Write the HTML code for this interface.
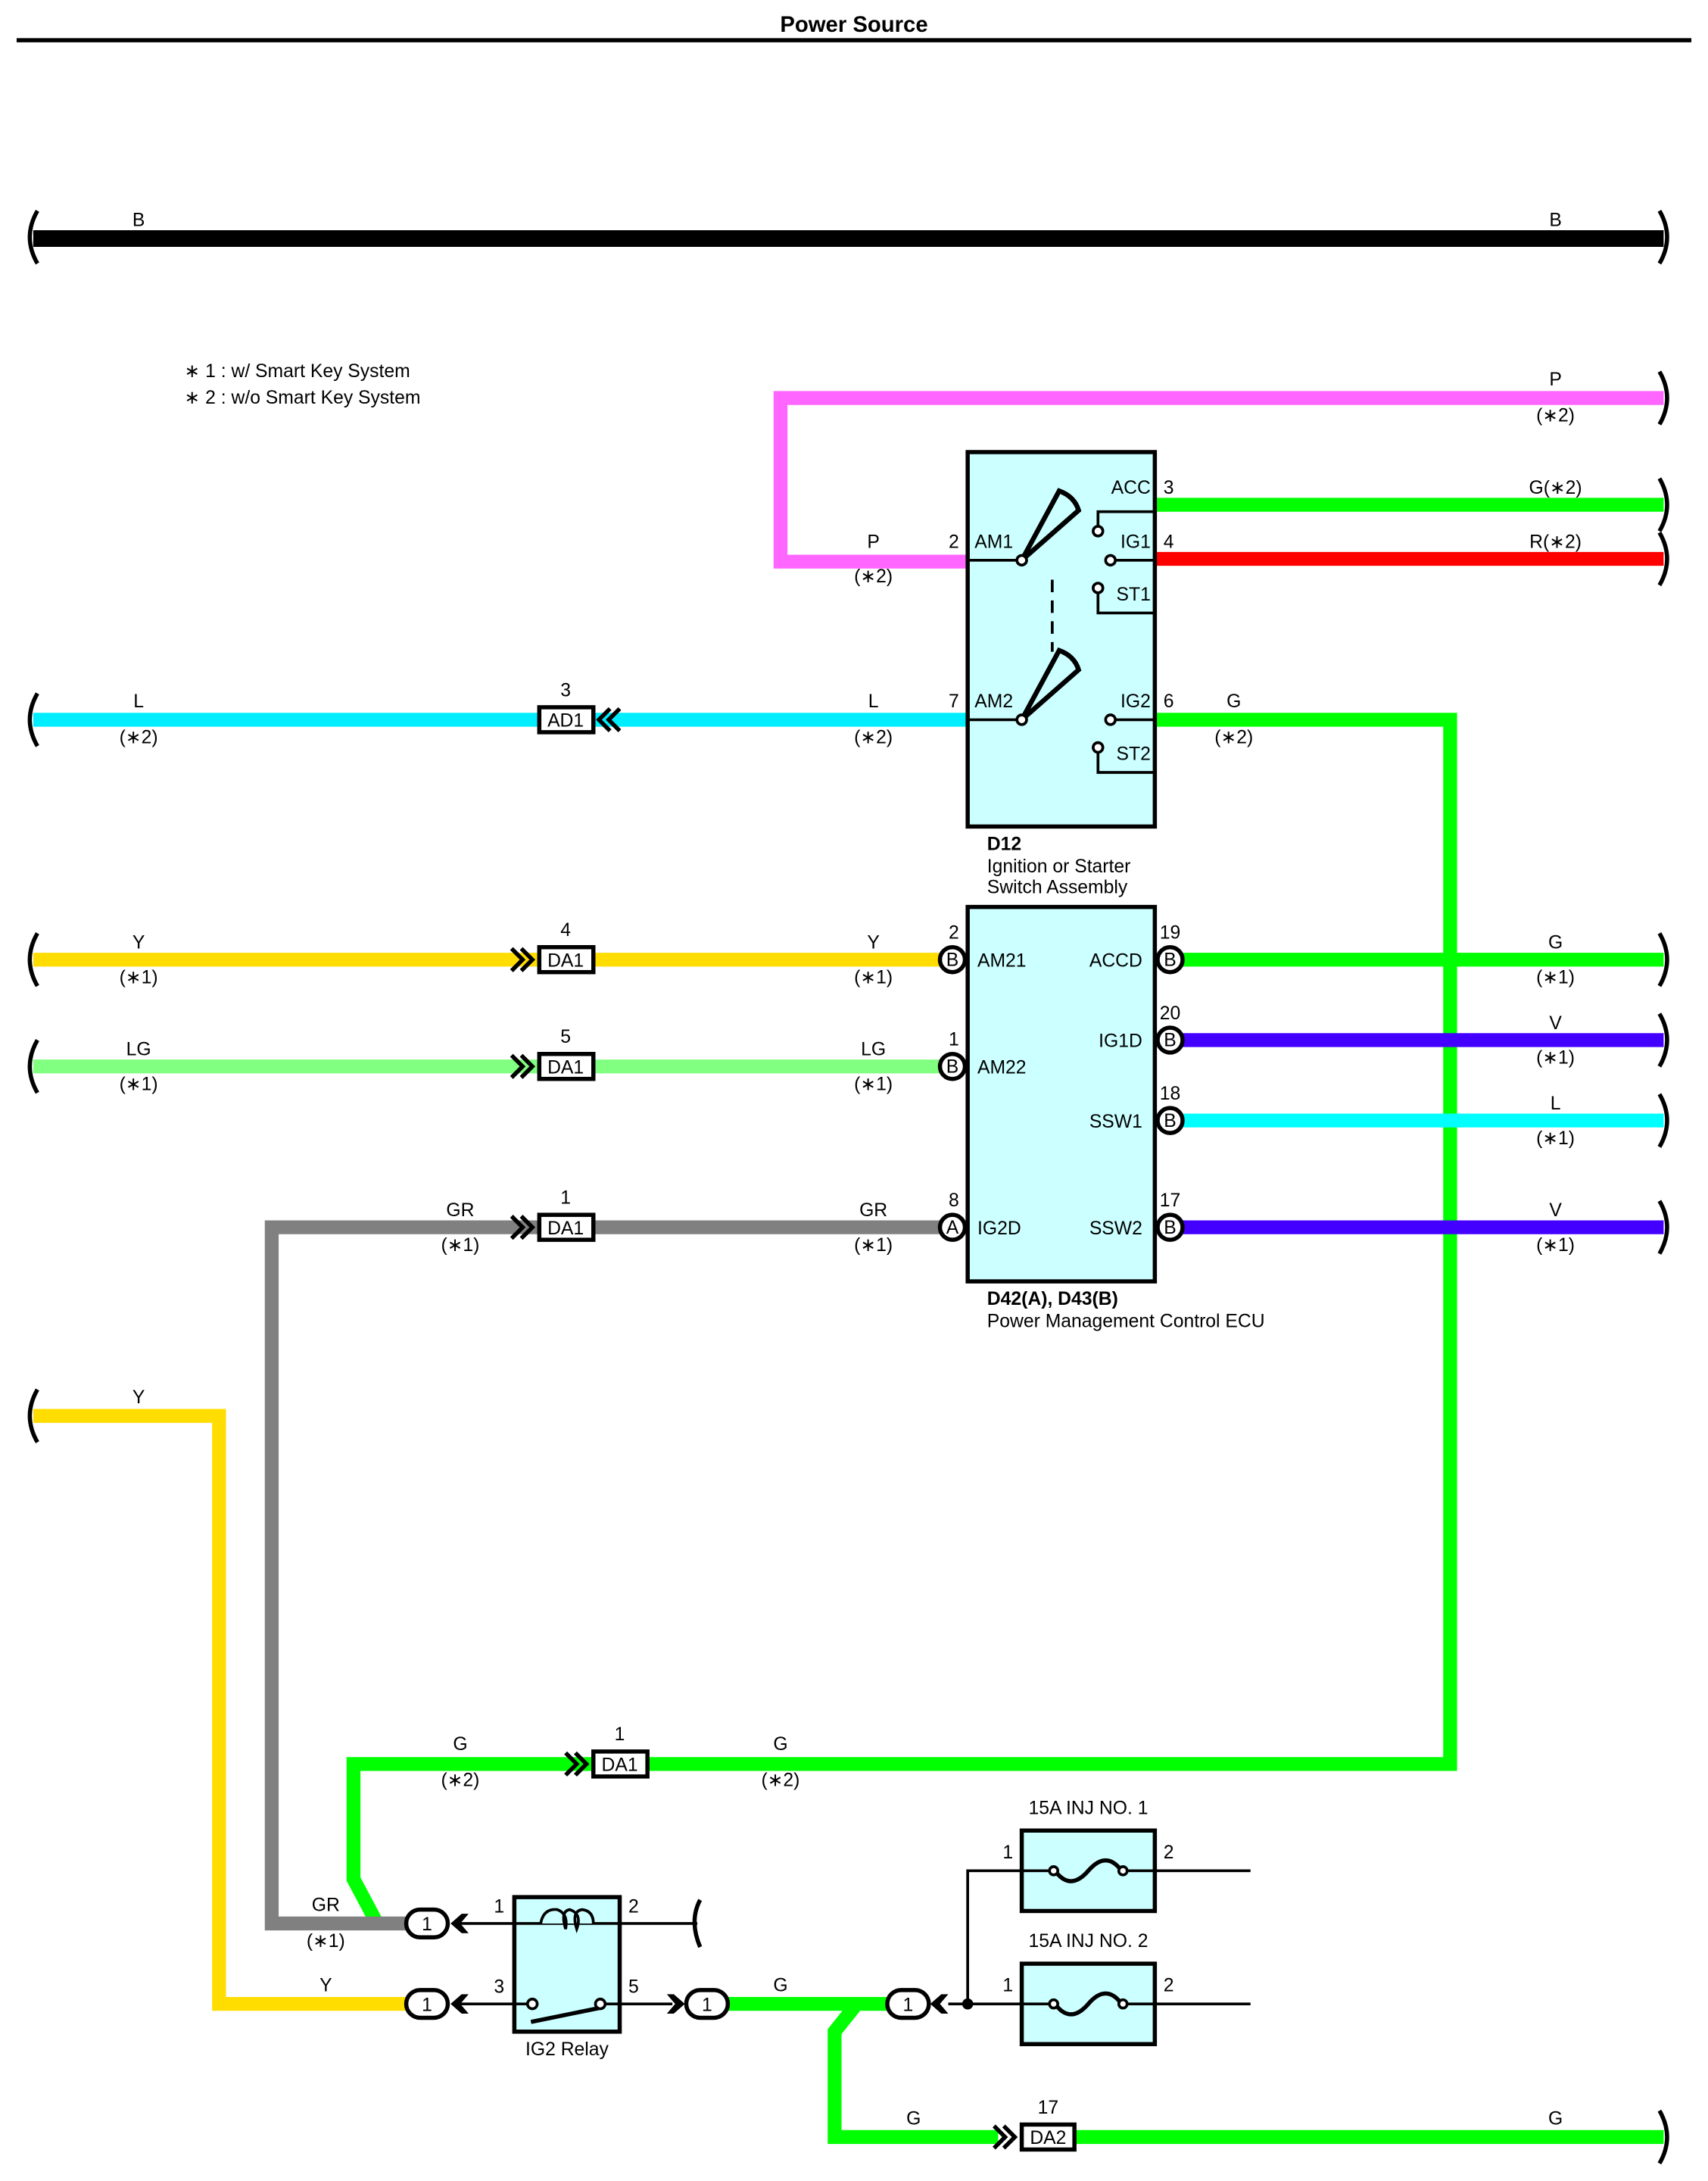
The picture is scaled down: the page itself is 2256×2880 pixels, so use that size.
<!DOCTYPE html>
<html><head><meta charset="utf-8"><style>
html,body{margin:0;padding:0;background:#fff}
svg{display:block}
text{font-family:"Liberation Sans",sans-serif;font-size:13.5px;fill:#000}
.c{text-anchor:middle}
.e{text-anchor:end}
.b{font-weight:bold}
</style></head><body>
<svg width="2256" height="2880" viewBox="0 0 1232 1572.7" preserveAspectRatio="none" xmlns="http://www.w3.org/2000/svg">
<g fill="none" stroke-linecap="butt" stroke-linejoin="miter">
<!-- title -->
<text x="616" y="23" class="c b" style="font-size:16px">Power Source</text>
<line x1="12" y1="29" x2="1220" y2="29" stroke="#000" stroke-width="3"/>

<!-- B wire -->
<line x1="24" y1="172" x2="1200" y2="172" stroke="#000" stroke-width="12"/>

<!-- P wire -->
<polyline points="1200,287 563,287 563,405 697,405" stroke="#ff66ff" stroke-width="10"/>
<!-- G / R from D12 -->
<line x1="833" y1="364" x2="1200" y2="364" stroke="#00ff00" stroke-width="10"/>
<line x1="833" y1="403" x2="1200" y2="403" stroke="#ff0000" stroke-width="10"/>
<!-- L wire -->
<line x1="24" y1="519" x2="697" y2="519" stroke="#00eeff" stroke-width="10"/>
<!-- G long -->
<polyline points="833,519 1046,519 1046,1272 255,1272 255,1355 272,1387" stroke="#00ff00" stroke-width="10"/>
<!-- Y -->
<line x1="24" y1="692" x2="680" y2="692" stroke="#ffdd00" stroke-width="10"/>
<line x1="24" y1="769" x2="680" y2="769" stroke="#80ff80" stroke-width="10"/>
<polyline points="680,885 196,885 196,1387 294,1387" stroke="#808080" stroke-width="10"/>
<!-- right ECU wires -->
<line x1="852" y1="692" x2="1200" y2="692" stroke="#00ff00" stroke-width="10"/>
<line x1="852" y1="750" x2="1200" y2="750" stroke="#4400ff" stroke-width="10"/>
<line x1="852" y1="808" x2="1200" y2="808" stroke="#00ffff" stroke-width="10"/>
<line x1="852" y1="885" x2="1200" y2="885" stroke="#4400ff" stroke-width="10"/>
<!-- lower Y -->
<polyline points="24,1021 158,1021 158,1445 294,1445" stroke="#ffdd00" stroke-width="10"/>
<!-- lower G -->
<line x1="525" y1="1445" x2="642" y2="1445" stroke="#00ff00" stroke-width="10"/>
<polyline points="618,1445 602,1465 602,1541 720,1541" stroke="#00ff00" stroke-width="10"/>
<line x1="775" y1="1541" x2="1200" y2="1541" stroke="#00ff00" stroke-width="10"/>

<!-- end brackets -->
<g stroke="#000" stroke-width="3">
<path d="M27,152 Q16,171 27,190"/>
<path d="M1197,152 Q1208,171 1197,190"/>
<path d="M1197,268 Q1208,287 1197,306"/>
<path d="M1197,345 Q1208,364 1197,383"/>
<path d="M1197,384 Q1208,403 1197,422"/>
<path d="M27,500 Q16,519 27,538"/>
<path d="M27,673 Q16,692 27,711"/>
<path d="M1197,673 Q1208,692 1197,711"/>
<path d="M27,750 Q16,769 27,788"/>
<path d="M1197,731 Q1208,750 1197,769"/>
<path d="M1197,789 Q1208,808 1197,827"/>
<path d="M1197,866 Q1208,885 1197,904"/>
<path d="M27,1002 Q16,1021 27,1040"/>
<path d="M1197,1522 Q1208,1541 1197,1560"/>
<path d="M505,1370 Q497,1385 505,1404"/>
</g>

<!-- D12 box -->
<rect x="698" y="326" width="135" height="270" fill="#ccffff" stroke="#000" stroke-width="3"/>
<g stroke="#000" stroke-width="2">
<line x1="698" y1="404" x2="735" y2="404"/>
<line x1="698" y1="519" x2="735" y2="519"/>
<polyline points="833,369 792,369 792,380"/>
<line x1="805" y1="404" x2="833" y2="404"/>
<polyline points="792,427 792,442 833,442"/>
<line x1="805" y1="519" x2="833" y2="519"/>
<polyline points="792,542 792,557 833,557"/>
<line x1="759" y1="418" x2="759" y2="470" stroke-dasharray="9,6"/>
</g>
<g stroke="#000" stroke-width="3.5">
<path d="M737,404 L764,354 Q775,358 778,368 Z"/>
<path d="M737,519 L764,469 Q775,473 778,483 Z"/>
</g>
<g stroke="#000" stroke-width="2" fill="#fff">
<circle cx="737" cy="404" r="3.5"/><circle cx="737" cy="519" r="3.5"/>
<circle cx="792" cy="383" r="3.5"/><circle cx="801" cy="404" r="3.5"/>
<circle cx="792" cy="424" r="3.5"/><circle cx="801" cy="519" r="3.5"/>
<circle cx="792" cy="539" r="3.5"/>
</g>

<!-- ECU box -->
<rect x="698" y="654" width="135" height="270" fill="#ccffff" stroke="#000" stroke-width="3"/>
<g stroke="#000" stroke-width="3" fill="#fff">
<circle cx="687" cy="692" r="9"/><circle cx="687" cy="769" r="9"/><circle cx="687" cy="885" r="9"/>
<circle cx="844" cy="692" r="9"/><circle cx="844" cy="750" r="9"/><circle cx="844" cy="808" r="9"/><circle cx="844" cy="885" r="9"/>
</g>

<!-- inline connectors -->
<g stroke="#000" stroke-width="3" fill="#fff">
<rect x="389" y="510" width="39" height="18"/>
<rect x="389" y="683" width="39" height="18"/>
<rect x="389" y="760" width="39" height="18"/>
<rect x="389" y="876" width="39" height="18"/>
<rect x="428" y="1263" width="39" height="18"/>
<rect x="737" y="1532" width="38" height="18"/>
</g>
<g stroke="#000" stroke-width="3">
<polyline points="440,511 432,519 440,527"/><polyline points="447,511 439,519 447,527"/>
<polyline points="369,684 377,692 369,700"/><polyline points="376,684 384,692 376,700"/>
<polyline points="369,761 377,769 369,777"/><polyline points="376,761 384,769 376,777"/>
<polyline points="369,877 377,885 369,893"/><polyline points="376,877 384,885 376,893"/>
<polyline points="408,1264 416,1272 408,1280"/><polyline points="415,1264 423,1272 415,1280"/>
<polyline points="717,1533 725,1541 717,1549"/><polyline points="724,1533 732,1541 724,1549"/>
</g>

<!-- relay -->
<g stroke="#000" stroke-width="2">
<line x1="330" y1="1387" x2="503" y2="1387"/>
<line x1="330" y1="1445" x2="381" y2="1445"/>
<line x1="436" y1="1445" x2="485" y2="1445"/>
</g>
<rect x="371" y="1368" width="76" height="97" fill="#ccffff" stroke="#000" stroke-width="3"/>
<g stroke="#000" stroke-width="2">
<line x1="371" y1="1387" x2="447" y2="1387"/>
<line x1="436" y1="1445" x2="447" y2="1445"/>
<line x1="371" y1="1445" x2="381" y2="1445"/>
<path d="M390,1387 Q392,1376 402,1377 Q410,1380 408,1391 Q404,1378 411,1377 Q420,1380 416,1391 Q412,1378 420,1377 Q428,1378 428,1387" fill="#ccffff"/>
</g>
<line x1="383" y1="1458" x2="432" y2="1448" stroke="#000" stroke-width="3"/>
<g stroke="#000" stroke-width="2" fill="#fff"><circle cx="384" cy="1445" r="3.5"/><circle cx="433" cy="1445" r="3.5"/></g>

<!-- oval connectors -->
<g stroke="#000" stroke-width="3" fill="#fff">
<rect x="293" y="1377" width="30" height="20" rx="10"/>
<rect x="293" y="1435" width="30" height="20" rx="10"/>
<rect x="495" y="1435" width="30" height="20" rx="10"/>
<rect x="640" y="1435" width="30" height="20" rx="10"/>
</g>
<g fill="#000">
<polygon points="325,1387 333,1380 338,1380 332,1387 338,1394 333,1394"/>
<polygon points="325,1445 333,1438 338,1438 332,1445 338,1452 333,1452"/>
<polygon points="494,1445 486,1438 481,1438 487,1445 481,1452 486,1452"/>
<polygon points="671,1445 679,1438 684,1438 678,1445 684,1452 679,1452"/>
<circle cx="698" cy="1445" r="4"/>
</g>
<!-- fuses -->
<g stroke="#000" stroke-width="2">
<polyline points="684,1445 737,1445"/>
<polyline points="698,1445 698,1349 737,1349"/>
<line x1="833" y1="1349" x2="902" y2="1349"/>
<line x1="833" y1="1445" x2="902" y2="1445"/>
</g>
<rect x="737" y="1320" width="96" height="58" fill="#ccffff" stroke="#000" stroke-width="3"/>
<rect x="737" y="1416" width="96" height="58" fill="#ccffff" stroke="#000" stroke-width="3"/>
<g stroke="#000" stroke-width="2">
<line x1="737" y1="1349" x2="758" y2="1349"/><line x1="812" y1="1349" x2="833" y2="1349"/>
<line x1="737" y1="1445" x2="758" y2="1445"/><line x1="812" y1="1445" x2="833" y2="1445"/>
</g>
<g stroke="#000" stroke-width="3">
<path d="M761,1349 Q772,1364 785,1349 Q798,1334 809,1349"/>
<path d="M761,1445 Q772,1460 785,1445 Q798,1430 809,1445"/>
</g>
<g stroke="#000" stroke-width="2" fill="#fff">
<circle cx="760" cy="1349" r="3"/><circle cx="810" cy="1349" r="3"/>
<circle cx="760" cy="1445" r="3"/><circle cx="810" cy="1445" r="3"/>
</g>
</g>

<!-- texts -->
<text x="100" y="163" class="c">B</text><text x="1122" y="163" class="c">B</text>
<text x="133" y="272">∗ 1 : w/ Smart Key System</text>
<text x="133" y="291">∗ 2 : w/o Smart Key System</text>
<text x="1122" y="278" class="c">P</text><text x="1122" y="304" class="c">(∗2)</text>
<text x="630" y="395" class="c">P</text><text x="630" y="420" class="c">(∗2)</text>
<text x="688" y="395" class="c">2</text>
<text x="703" y="395">AM1</text><text x="703" y="510">AM2</text>
<text x="830" y="356" class="e">ACC</text><text x="830" y="395" class="e">IG1</text>
<text x="830" y="433" class="e">ST1</text><text x="830" y="510" class="e">IG2</text>
<text x="830" y="548" class="e">ST2</text>
<text x="843" y="356" class="c">3</text><text x="843" y="395" class="c">4</text><text x="843" y="510" class="c">6</text>
<text x="1122" y="356" class="c">G(∗2)</text><text x="1122" y="395" class="c">R(∗2)</text>
<text x="890" y="510" class="c">G</text><text x="890" y="536" class="c">(∗2)</text>
<text x="688" y="510" class="c">7</text>
<text x="408" y="502" class="c">3</text><text x="408" y="524" class="c">AD1</text>
<text x="100" y="510" class="c">L</text><text x="100" y="536" class="c">(∗2)</text>
<text x="630" y="510" class="c">L</text><text x="630" y="536" class="c">(∗2)</text>
<text x="712" y="613" class="b">D12</text>
<text x="712" y="629">Ignition or Starter</text>
<text x="712" y="644">Switch Assembly</text>

<text x="100" y="684" class="c">Y</text><text x="100" y="709" class="c">(∗1)</text>
<text x="630" y="684" class="c">Y</text><text x="630" y="709" class="c">(∗1)</text>
<text x="408" y="675" class="c">4</text><text x="408" y="697" class="c">DA1</text>
<text x="100" y="761" class="c">LG</text><text x="100" y="786" class="c">(∗1)</text>
<text x="630" y="761" class="c">LG</text><text x="630" y="786" class="c">(∗1)</text>
<text x="408" y="752" class="c">5</text><text x="408" y="774" class="c">DA1</text>
<text x="332" y="877" class="c">GR</text><text x="332" y="902" class="c">(∗1)</text>
<text x="630" y="877" class="c">GR</text><text x="630" y="902" class="c">(∗1)</text>
<text x="408" y="868" class="c">1</text><text x="408" y="890" class="c">DA1</text>
<text x="688" y="677" class="c">2</text><text x="688" y="754" class="c">1</text><text x="688" y="870" class="c">8</text>
<g style="font-size:12px"><text x="687" y="696.5" class="c">B</text><text x="687" y="773.5" class="c">B</text><text x="687" y="889.5" class="c">A</text>
<text x="844" y="696.5" class="c">B</text><text x="844" y="754.5" class="c">B</text><text x="844" y="812.5" class="c">B</text><text x="844" y="889.5" class="c">B</text></g>
<text x="705" y="697">AM21</text><text x="705" y="774">AM22</text><text x="705" y="890">IG2D</text>
<text x="824" y="697" class="e">ACCD</text><text x="824" y="755" class="e">IG1D</text>
<text x="824" y="813" class="e">SSW1</text><text x="824" y="890" class="e">SSW2</text>
<text x="844" y="677" class="c">19</text><text x="844" y="735" class="c">20</text>
<text x="844" y="793" class="c">18</text><text x="844" y="870" class="c">17</text>
<text x="1122" y="684" class="c">G</text><text x="1122" y="709" class="c">(∗1)</text>
<text x="1122" y="742" class="c">V</text><text x="1122" y="767" class="c">(∗1)</text>
<text x="1122" y="800" class="c">L</text><text x="1122" y="825" class="c">(∗1)</text>
<text x="1122" y="877" class="c">V</text><text x="1122" y="902" class="c">(∗1)</text>
<text x="712" y="941" class="b">D42(A), D43(B)</text>
<text x="712" y="957">Power Management Control ECU</text>

<text x="100" y="1012" class="c">Y</text>
<text x="332" y="1262" class="c">G</text><text x="332" y="1288" class="c">(∗2)</text>
<text x="563" y="1262" class="c">G</text><text x="563" y="1288" class="c">(∗2)</text>
<text x="447" y="1255" class="c">1</text><text x="447" y="1277" class="c">DA1</text>
<text x="235" y="1378" class="c">GR</text><text x="235" y="1404" class="c">(∗1)</text>
<text x="235" y="1436" class="c">Y</text>
<text x="360" y="1379" class="c">1</text><text x="457" y="1379" class="c">2</text>
<text x="360" y="1437" class="c">3</text><text x="457" y="1437" class="c">5</text>
<text x="409" y="1482" class="c">IG2 Relay</text>
<g style="font-size:13px"><text x="308" y="1392" class="c">1</text><text x="308" y="1450" class="c">1</text>
<text x="510" y="1450" class="c">1</text><text x="655" y="1450" class="c">1</text></g>
<text x="563" y="1436" class="c">G</text>
<text x="785" y="1308" class="c">15A INJ NO. 1</text>
<text x="785" y="1404" class="c">15A INJ NO. 2</text>
<text x="727" y="1340" class="c">1</text><text x="843" y="1340" class="c">2</text>
<text x="727" y="1436" class="c">1</text><text x="843" y="1436" class="c">2</text>
<text x="659" y="1532" class="c">G</text><text x="1122" y="1532" class="c">G</text>
<text x="756" y="1524" class="c">17</text><text x="756" y="1546" class="c">DA2</text>
</svg>
</body></html>
